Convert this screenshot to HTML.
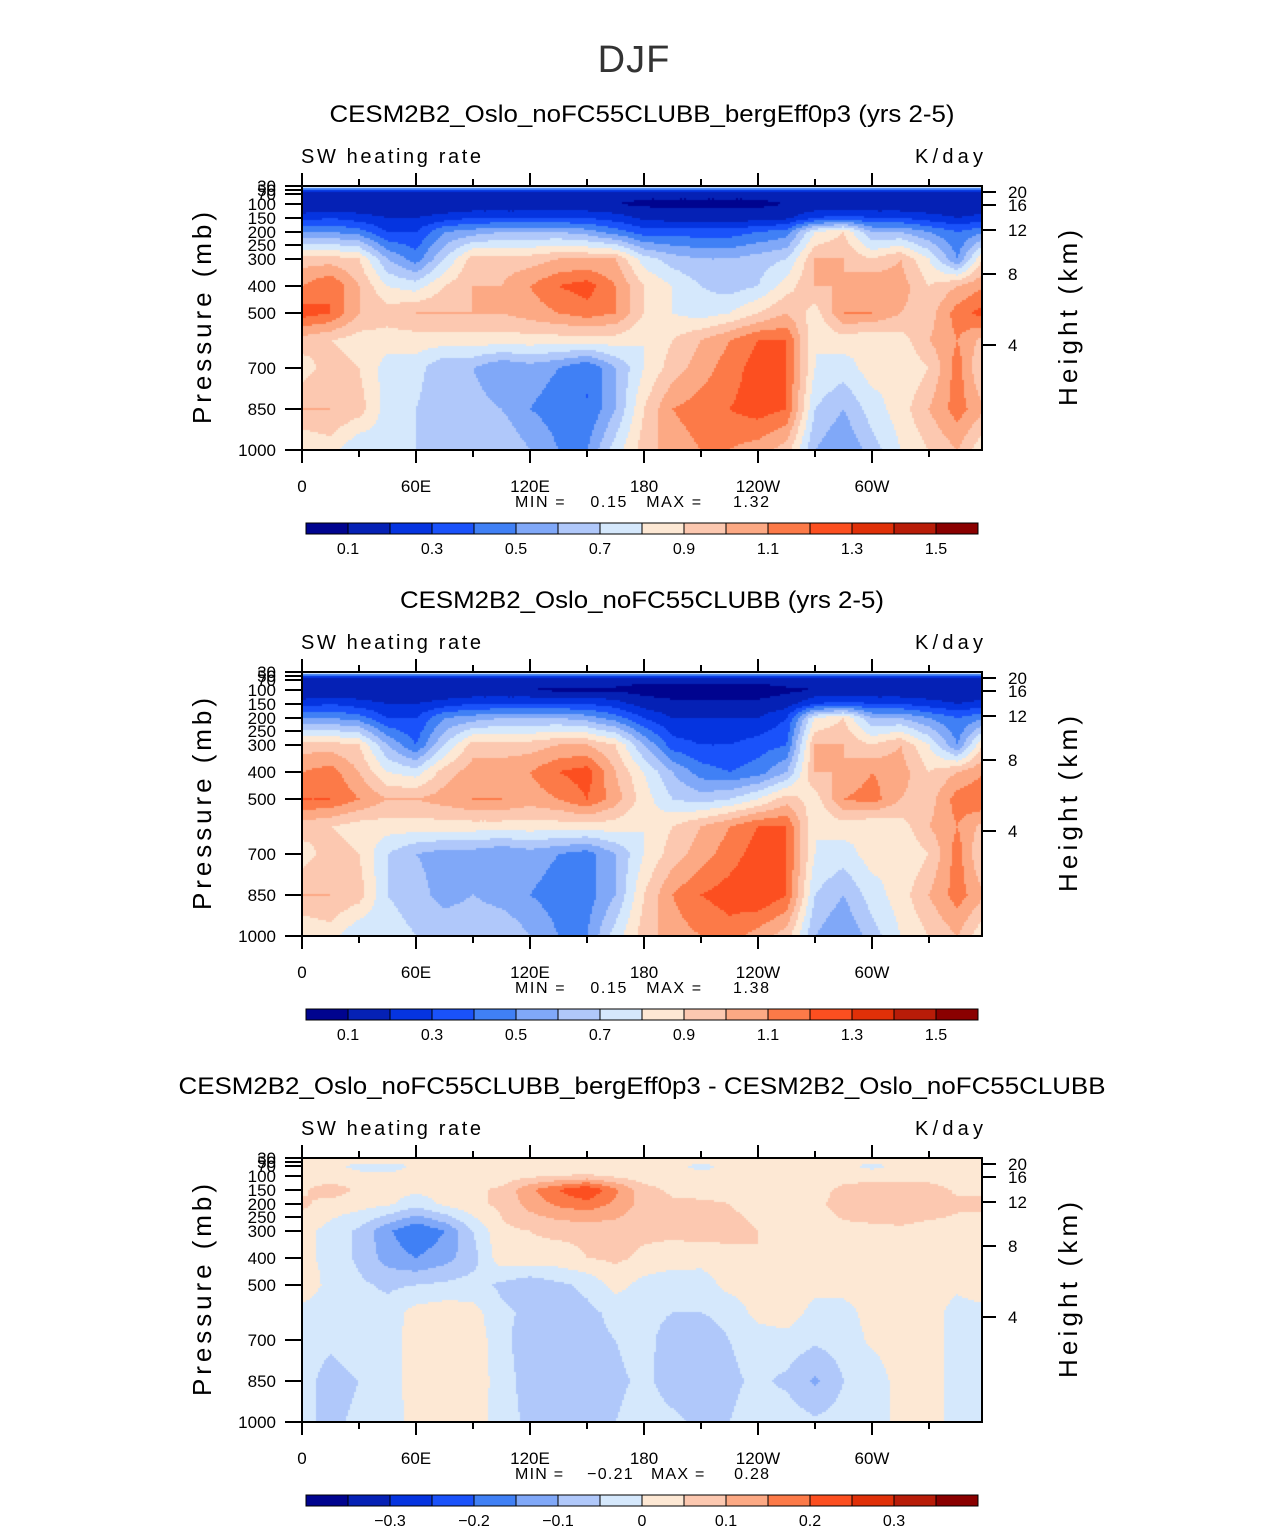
<!DOCTYPE html>
<html><head><meta charset="utf-8">
<style>
body{margin:0;background:#fff;}
#root{position:relative;width:1285px;height:1531px;overflow:hidden;font-family:"Liberation Sans",sans-serif;}
canvas{position:absolute;}
svg{position:absolute;left:0;top:0;}
</style></head>
<body>
<div id="root">
<svg id="svg" width="1285" height="1531"></svg>
</div>
<script>
// ---- data ----
const lons = [0,15,30,45,60,75,90,105,120,135,150,165,180,195,210,225,240,255,270,285,300,315,330,345];
const levels = [1000,850,700,600,500,400,300,200,150,100,70,50,30];
const xTickLabels = ["0","60E","120E","180","120W","60W"];
const pTickLabels = [1000,850,700,500,400,300,250,200,150,100,70,50,30];
const hTickLabels = [4,8,12,16,20];
const cbLabels1 = ["0.1","0.3","0.5","0.7","0.9","1.1","1.3","1.5"];
const cbLabels3 = ["\u22120.3","\u22120.2","\u22120.1","0","0.1","0.2","0.3"];
const bounds1 = [0.1,0.2,0.3,0.4,0.5,0.6,0.7,0.8,0.9,1.0,1.1,1.2,1.3,1.4,1.5];
const bounds3 = [-0.35,-0.3,-0.25,-0.2,-0.15,-0.1,-0.05,0,0.05,0.1,0.15,0.2,0.25,0.3,0.35];
const palette = ["#00048f","#0521b5","#0534e0","#1a52fa","#4080f5","#80a8f8","#b0c8fa","#d5e8fc","#fde8d4","#fcc8b0","#fca984","#fc7a48","#fc4f20","#e03008","#b81c08","#8a0000"];
const ctl1 = [
[0.8,0.85,0.7,0.75,0.7,0.7,0.7,0.7,0.6,0.5,0.5,0.75,0.95,1.05,1.1,1.1,1.05,0.95,0.6,0.5,0.65,0.8,0.9,1.0],
[1.0,1.0,0.95,0.75,0.7,0.6,0.65,0.6,0.5,0.45,0.4,0.6,0.9,1.1,1.15,1.2,1.25,1.2,0.7,0.6,0.75,0.85,1.0,1.15],
[0.85,0.95,0.9,0.75,0.75,0.6,0.6,0.5,0.55,0.5,0.4,0.6,0.8,0.95,1.05,1.15,1.25,1.2,0.8,0.75,0.85,0.8,0.9,1.15],
[0.95,0.9,0.85,0.85,0.85,0.85,0.85,0.85,0.85,0.85,0.85,0.85,0.8,0.9,1.0,1.1,1.2,1.2,0.8,0.85,0.8,0.85,1.0,1.1],
[1.25,1.2,1.0,0.95,1.0,1.0,1.0,1.0,1.05,1.1,1.15,1.1,0.9,0.8,0.75,0.8,0.9,1.0,0.85,1.1,1.1,1.0,0.95,1.15],
[1.1,1.2,1.0,0.8,0.75,0.9,1.0,1.0,1.1,1.2,1.25,1.1,0.9,0.8,0.7,0.65,0.7,0.85,1.0,1.0,1.1,1.05,0.9,1.0],
[0.95,0.95,0.9,0.6,0.45,0.7,0.95,0.95,0.95,1.0,1.0,1.0,0.75,0.65,0.6,0.6,0.65,0.7,1.0,1.0,0.9,1.0,0.8,0.5],
[0.5,0.5,0.45,0.3,0.3,0.5,0.55,0.6,0.6,0.6,0.55,0.45,0.35,0.35,0.35,0.35,0.4,0.45,0.8,0.9,0.6,0.6,0.5,0.4],
[0.25,0.3,0.25,0.2,0.2,0.25,0.3,0.3,0.3,0.3,0.3,0.25,0.18,0.15,0.15,0.15,0.15,0.18,0.3,0.35,0.3,0.3,0.25,0.2],
[0.1,0.1,0.1,0.1,0.1,0.1,0.1,0.1,0.1,0.1,0.1,0.1,0.08,0.08,0.08,0.08,0.08,0.1,0.1,0.1,0.1,0.1,0.1,0.1],
[0.15,0.15,0.15,0.15,0.15,0.15,0.15,0.15,0.15,0.15,0.15,0.15,0.12,0.12,0.12,0.12,0.12,0.15,0.15,0.15,0.15,0.15,0.15,0.15],
[0.3,0.3,0.3,0.3,0.3,0.3,0.3,0.3,0.3,0.3,0.3,0.3,0.3,0.3,0.3,0.3,0.3,0.3,0.3,0.3,0.3,0.3,0.3,0.3],
[0.85,0.85,0.85,0.85,0.85,0.85,0.85,0.85,0.85,0.85,0.85,0.85,0.85,0.85,0.85,0.85,0.85,0.85,0.85,0.85,0.85,0.85,0.85,0.85]];
const ctl2 = [
[0.8,0.85,0.7,0.75,0.7,0.7,0.7,0.7,0.6,0.5,0.5,0.75,0.95,1.05,1.1,1.15,1.05,0.95,0.6,0.5,0.65,0.8,0.9,1.0],
[1.0,1.0,0.95,0.7,0.65,0.55,0.6,0.55,0.5,0.45,0.45,0.6,0.9,1.1,1.2,1.25,1.3,1.2,0.7,0.6,0.75,0.85,1.0,1.15],
[0.85,0.95,0.9,0.7,0.6,0.55,0.55,0.5,0.55,0.5,0.45,0.6,0.8,0.95,1.05,1.15,1.25,1.2,0.8,0.75,0.85,0.8,0.9,1.15],
[0.95,0.9,0.85,0.85,0.85,0.85,0.85,0.85,0.85,0.85,0.85,0.85,0.8,0.9,1.0,1.1,1.2,1.2,0.8,0.85,0.8,0.85,1.0,1.1],
[1.2,1.2,1.1,1.0,1.0,1.05,1.1,1.1,1.05,1.1,1.2,1.05,0.85,0.7,0.65,0.7,0.8,0.95,0.85,1.1,1.15,1.0,0.95,1.15],
[1.1,1.15,1.0,0.8,0.75,0.95,1.05,1.05,1.1,1.2,1.25,1.0,0.8,0.6,0.45,0.4,0.45,0.6,1.0,1.0,1.1,1.05,0.9,1.0],
[0.95,0.95,0.9,0.6,0.4,0.7,0.95,0.95,0.95,1.0,1.0,0.9,0.6,0.35,0.3,0.3,0.35,0.4,1.0,1.0,0.9,1.0,0.8,0.5],
[0.5,0.5,0.45,0.3,0.3,0.5,0.55,0.6,0.6,0.6,0.55,0.45,0.3,0.2,0.2,0.2,0.2,0.3,0.8,0.9,0.6,0.6,0.5,0.4],
[0.25,0.3,0.25,0.2,0.2,0.25,0.3,0.3,0.3,0.3,0.3,0.25,0.15,0.12,0.12,0.12,0.12,0.15,0.3,0.35,0.3,0.3,0.25,0.2],
[0.1,0.1,0.1,0.1,0.1,0.1,0.1,0.1,0.1,0.08,0.08,0.08,0.06,0.06,0.06,0.06,0.06,0.08,0.1,0.1,0.1,0.1,0.1,0.1],
[0.15,0.15,0.15,0.15,0.15,0.15,0.15,0.15,0.15,0.15,0.15,0.15,0.12,0.12,0.12,0.12,0.12,0.15,0.15,0.15,0.15,0.15,0.15,0.15],
[0.3,0.3,0.3,0.3,0.3,0.3,0.3,0.3,0.3,0.3,0.3,0.3,0.3,0.3,0.3,0.3,0.3,0.3,0.3,0.3,0.3,0.3,0.3,0.3],
[0.85,0.85,0.85,0.85,0.85,0.85,0.85,0.85,0.85,0.85,0.85,0.85,0.85,0.85,0.85,0.85,0.85,0.85,0.85,0.85,0.85,0.85,0.85,0.85]];
const diff = [
[-0.04,-0.06,-0.04,-0.03,0.02,0.04,0.03,-0.03,-0.06,-0.07,-0.06,-0.05,-0.03,-0.04,-0.06,-0.05,-0.03,-0.02,-0.04,-0.03,-0.02,0.01,0.02,-0.02],
[-0.03,-0.07,-0.05,-0.03,0.03,0.05,0.04,-0.03,-0.07,-0.08,-0.07,-0.06,-0.04,-0.07,-0.08,-0.06,-0.04,-0.06,-0.11,-0.05,-0.03,0.02,0.03,-0.03],
[-0.03,-0.04,-0.02,-0.03,0.03,0.05,0.04,-0.04,-0.07,-0.07,-0.06,-0.05,-0.03,-0.08,-0.07,-0.05,-0.03,-0.02,-0.04,-0.03,0.01,0.02,0.02,-0.02],
[-0.02,-0.03,-0.02,-0.03,0.02,0.03,0.02,-0.04,-0.06,-0.07,-0.06,-0.04,-0.03,-0.05,-0.05,-0.04,0.02,0.03,-0.02,-0.02,0.02,0.03,0.02,-0.02],
[0.04,-0.02,-0.04,-0.06,-0.05,-0.04,-0.03,-0.06,-0.09,-0.06,-0.04,0.02,-0.02,-0.04,-0.03,0.02,0.03,0.04,0.02,0.02,0.03,0.04,0.03,0.01],
[0.02,-0.02,-0.06,-0.12,-0.15,-0.12,-0.07,0.03,0.04,0.03,0.05,0.06,0.04,0.03,0.02,0.04,0.05,0.04,0.03,0.04,0.03,0.03,0.03,0.02],
[0.02,-0.02,-0.06,-0.14,-0.2,-0.15,-0.05,0.04,0.05,0.06,0.06,0.07,0.06,0.06,0.07,0.06,0.05,0.03,0.02,0.03,0.03,0.04,0.03,0.03],
[0.06,0.03,0.02,0.01,-0.03,0.01,0.04,0.06,0.12,0.16,0.18,0.14,0.08,0.06,0.06,0.05,0.04,0.03,0.03,0.08,0.1,0.09,0.08,0.06],
[0.04,0.08,0.04,0.02,0.01,0.02,0.04,0.06,0.14,0.2,0.25,0.16,0.07,0.04,0.03,0.03,0.02,0.02,0.02,0.07,0.09,0.1,0.08,0.04],
[0.02,0.02,0.01,0.01,0.01,0.02,0.02,0.02,0.04,0.05,0.06,0.04,0.02,0.02,0.01,0.01,0.01,0.01,0.01,0.02,0.02,0.02,0.02,0.02],
[0.01,0.01,-0.01,-0.02,0.01,0.01,0.01,0.01,0.01,0.01,0.01,0.01,0.01,0.01,-0.01,0.01,0.01,0.01,0.01,0.01,-0.01,0.01,0.01,0.01],
[0.01,0.01,0.01,0.01,0.01,0.01,0.01,0.01,0.01,0.01,0.01,0.01,0.01,0.01,0.01,0.01,0.01,0.01,0.01,0.01,0.01,0.01,0.01,0.01],
[0.01,0.01,0.01,0.01,0.01,0.01,0.01,0.01,0.01,0.01,0.01,0.01,0.01,0.01,0.01,0.01,0.01,0.01,0.01,0.01,0.01,0.01,0.01,0.01]];

// ---- axes ----
const PX0=302, PW=680, PH=264;
const xScale = lon => PX0 + lon*1.9;
const pAxisP = [1000,850,700,500,400,300,250,200,150,100,70,50,30];
const pAxisOff = [0,41,82,137,164,191,205,218,232,246,256,260,264];
function yOff(p){
  for(let i=0;i<pAxisP.length-1;i++){
    if(p<=pAxisP[i] && p>=pAxisP[i+1]){
      const t=(pAxisP[i]-p)/(pAxisP[i]-pAxisP[i+1]);
      return pAxisOff[i]+t*(pAxisOff[i+1]-pAxisOff[i]);
    }
  }
  return p>1000?0:264;
}
const hAxisOff=[105,176,220,245,258];

const NS="http://www.w3.org/2000/svg";
const svg=document.getElementById('svg');
function el(tag,attrs,parent,txt){const e=document.createElementNS(NS,tag);for(const k in attrs)e.setAttribute(k,attrs[k]);if(txt!==undefined)e.textContent=txt;(parent||svg).appendChild(e);return e;}
function colorFor(v,b){let i=0;while(i<b.length&&v>=b[i])i++;return palette[i];}

function drawField(data,bounds,top,name){
  const cv=document.createElement('canvas');
  cv.width=PW;cv.height=PH;cv.style.left=PX0+'px';cv.style.top=top+'px';
  
  
  document.getElementById('root').insertBefore(cv,svg);
  const ctx=cv.getContext('2d');
  const rowOff=levels.map(yOff);
  const step=2;
  for(let py=0;py<PH;py+=step){
    const off=PH-(py+step/2);
    let r=0;while(r<rowOff.length-2&&off>rowOff[r+1])r++;
    let ty=(off-rowOff[r])/(rowOff[r+1]-rowOff[r]);ty=Math.max(0,Math.min(1,ty));
    for(let px=0;px<PW;px+=step){
      const lon=(px+step/2)/1.9;
      let c=Math.floor(lon/15);const tx=(lon-c*15)/15;
      const c0=c%lons.length, c1=(c+1)%lons.length;
      const v0=data[r][c0]*(1-tx)+data[r][c1]*tx;
      const v1=data[r+1][c0]*(1-tx)+data[r+1][c1]*tx;
      const v=v0*(1-ty)+v1*ty;
      ctx.fillStyle=colorFor(v,bounds);
      ctx.fillRect(px,py,step,step);
    }
  }
}

function drawPanel(top,title,titleW,data,bounds,minTxt,maxTxt,cbLabels,cbStart,idx){
  const g=el('g',{});
  
  
  drawField(data,bounds,top,'contour-field-'+idx);
  const t=el('text',{x:642,y:top-64,'text-anchor':'middle','font-size':24,fill:'#000',textLength:titleW,lengthAdjust:'spacingAndGlyphs'},g,title);
  
  const l=el('text',{x:301,y:top-23,'font-size':20,fill:'#000',textLength:180,lengthAdjust:'spacing'},g,'SW heating rate');
  
  const u=el('text',{x:915,y:top-23,'font-size':20,fill:'#000',textLength:68,lengthAdjust:'spacing'},g,'K/day');
  
  const bot=top+PH;
  const fr=el('rect',{x:PX0,y:top,width:PW,height:PH,fill:'none',stroke:'#000','stroke-width':2},g);
  
  for(let lon=0;lon<360;lon+=30){
    const x=xScale(lon), major=lon%60===0, len=major?13:7;
    el('line',{x1:x,y1:bot,x2:x,y2:bot+len,stroke:'#000','stroke-width':2},g);
    el('line',{x1:x,y1:top,x2:x,y2:top-len,stroke:'#000','stroke-width':2},g);
  }
  xTickLabels.forEach((s,i)=>{
    const tx=el('text',{x:xScale(i*60),y:bot+42,'text-anchor':'middle','font-size':17,fill:'#000'},g,s);
    
  });
  pTickLabels.forEach(p=>{
    const y=bot-yOff(p);
    el('line',{x1:PX0,y1:y,x2:PX0-17,y2:y,stroke:'#000','stroke-width':2},g);
    const tx=el('text',{x:276,y:y+6,'text-anchor':'end','font-size':17,fill:'#000'},g,String(p));
    
  });
  hTickLabels.forEach((h,i)=>{
    const y=bot-hAxisOff[i];
    el('line',{x1:PX0+PW,y1:y,x2:PX0+PW+14,y2:y,stroke:'#000','stroke-width':2},g);
    const tx=el('text',{x:1008,y:y+6,'font-size':17,fill:'#000'},g,String(h));
    
  });
  const yl=el('text',{x:0,y:0,transform:`translate(211,${top+132}) rotate(-90)`,'text-anchor':'middle','font-size':26,fill:'#000',textLength:212,lengthAdjust:'spacing'},g,'Pressure (mb)');
  
  const yr=el('text',{x:0,y:0,transform:`translate(1077,${top+132}) rotate(-90)`,'text-anchor':'middle','font-size':26,fill:'#000',textLength:176,lengthAdjust:'spacing'},g,'Height (km)');
  
  const mm=el('text',{x:642,y:bot+57,'text-anchor':'middle','font-size':16,fill:'#000',style:'white-space:pre',textLength:254,lengthAdjust:'spacing'},g,`MIN =    ${minTxt}   MAX =     ${maxTxt}`);
  
  const cbY=bot+73;
  palette.forEach((c,i)=>{
    const r=el('rect',{x:306+i*42,y:cbY,width:42,height:11,fill:c,stroke:'#000','stroke-width':1},g);
    
  });
  cbLabels.forEach((s,i)=>{
    const tx=el('text',{x:cbStart+i*84,y:cbY+31,'text-anchor':'middle','font-size':16,fill:'#000'},g,s);
    
  });
}

const mt=el('text',{x:634,y:72,'text-anchor':'middle','font-size':38,fill:'#333','letter-spacing':'1'},svg,'DJF');

drawPanel(186,'CESM2B2_Oslo_noFC55CLUBB_bergEff0p3 (yrs 2-5)',625,ctl1,bounds1,'0.15','1.32',cbLabels1,348,1);
drawPanel(672,'CESM2B2_Oslo_noFC55CLUBB (yrs 2-5)',484,ctl2,bounds1,'0.15','1.38',cbLabels1,348,2);
drawPanel(1158,'CESM2B2_Oslo_noFC55CLUBB_bergEff0p3 - CESM2B2_Oslo_noFC55CLUBB',927,diff,bounds3,'\u22120.21','0.28',cbLabels3,390,3);
</script>
</body></html>
